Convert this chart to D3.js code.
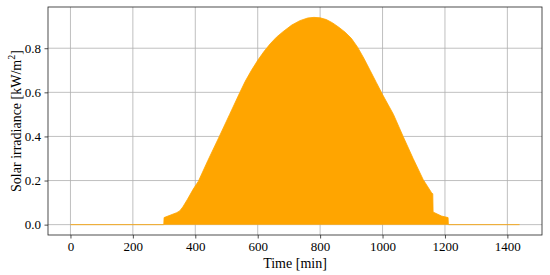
<!DOCTYPE html>
<html>
<head>
<meta charset="utf-8">
<script src="https://cdn.jsdelivr.net/npm/d3@7"></script>
<style>
  body { margin: 0; background: #fff; }
  text { font-family: "Liberation Serif", "DejaVu Serif", serif; }
</style>
</head>
<body>
<svg id="chart" width="550" height="275"></svg>
<script>
// data (time in minutes, irradiance in kW/m2)
const times  = [0, 299, 300, 340, 350, 360, 375, 393, 410, 440, 477, 510, 543, 560, 580, 600, 620, 640, 660, 681, 709, 735, 760, 780, 800, 820, 840, 860, 880, 900, 920, 940, 960, 980, 1000, 1035, 1066, 1098, 1130, 1157, 1161, 1162, 1189, 1210, 1211, 1439];
const values = [0, 0, 0.032, 0.054, 0.062, 0.08, 0.115, 0.16, 0.197, 0.29, 0.40, 0.50, 0.60, 0.65, 0.70, 0.745, 0.785, 0.82, 0.85, 0.875, 0.905, 0.925, 0.937, 0.94, 0.938, 0.93, 0.915, 0.895, 0.873, 0.845, 0.805, 0.755, 0.70, 0.645, 0.59, 0.50, 0.40, 0.30, 0.205, 0.145, 0.14, 0.057, 0.039, 0.032, 0, 0];
const xTicks = [0, 200, 400, 600, 800, 1000, 1200, 1400];
const yTicks = [0.0, 0.2, 0.4, 0.6, 0.8];

const svg = d3.select("#chart");
const margin = { left: 48, top: 7, right: 8, bottom: 40 };
const W = 550, H = 275;

// 5% padding like matplotlib
const xMin = 0, xMax = 1439;
const yMaxData = d3.max(values);
const x = d3.scaleLinear()
  .domain([xMin - 0.05 * (xMax - xMin), xMax + 0.05 * (xMax - xMin)])
  .range([margin.left, W - margin.right]);
const y = d3.scaleLinear()
  .domain([-0.05 * yMaxData, yMaxData * 1.05])
  .range([H - margin.bottom, margin.top]);

const data = times.map((t, i) => ({ t: t, v: values[i] }));

// grid
const grid = svg.append("g");
grid.selectAll(".gx").data(xTicks).enter().append("line")
  .attr("x1", d => x(d)).attr("x2", d => x(d))
  .attr("y1", margin.top).attr("y2", H - margin.bottom)
  .attr("stroke", "#b0b0b0").attr("stroke-width", 0.8);
grid.selectAll(".gy").data(yTicks).enter().append("line")
  .attr("y1", d => y(d)).attr("y2", d => y(d))
  .attr("x1", margin.left).attr("x2", W - margin.right)
  .attr("stroke", "#b0b0b0").attr("stroke-width", 0.8);

// filled irradiance
const area = d3.area()
  .x(d => x(d.t))
  .y0(y(0))
  .y1(d => y(d.v));
svg.append("path")
  .datum(data)
  .attr("d", area)
  .attr("fill", "#ffa500");

// the line on top
const line = d3.line().x(d => x(d.t)).y(d => y(d.v));
svg.append("path")
  .datum(data)
  .attr("d", line)
  .attr("fill", "none")
  .attr("stroke", "#ffa500")
  .attr("stroke-opacity", 0.8)
  .attr("stroke-width", 1);

// axes
const xAxis = d3.axisBottom(x).tickValues(xTicks).tickSize(3.5).tickPadding(3.5).tickFormat(d3.format("d"));
const yAxis = d3.axisLeft(y).tickValues(yTicks).tickSize(3.5).tickPadding(3.5).tickFormat(d3.format(".1f"));

const gx = svg.append("g")
  .attr("transform", "translate(0," + (H - margin.bottom) + ")")
  .call(xAxis);
const gy = svg.append("g")
  .attr("transform", "translate(" + margin.left + ",0)")
  .call(yAxis);
[gx, gy].forEach(g => {
  g.select(".domain").remove();
  g.selectAll("line").attr("stroke", "#222").attr("stroke-width", 0.8);
  g.selectAll("text").style("font-size", "13px").attr("fill", "#000")
    .style("font-family", "'Liberation Serif', serif");
});

// frame
svg.append("rect")
  .attr("x", margin.left).attr("y", margin.top)
  .attr("width", W - margin.left - margin.right)
  .attr("height", H - margin.top - margin.bottom)
  .attr("fill", "none").attr("stroke", "#222").attr("stroke-width", 0.8);

// labels
svg.append("text")
  .attr("x", (margin.left + W - margin.right) / 2)
  .attr("y", 268)
  .attr("text-anchor", "middle")
  .style("font-size", "14px")
  .text("Time [min]");

const yl = svg.append("text")
  .attr("transform", "translate(21," + ((margin.top + H - margin.bottom) / 2) + ") rotate(-90)")
  .attr("text-anchor", "middle")
  .style("font-size", "14px");
yl.append("tspan").text("Solar irradiance [kW/m");
yl.append("tspan").attr("dy", -6).style("font-size", "10px").text("2");
yl.append("tspan").attr("dy", 6).text("]");
</script>
</body>
</html>
